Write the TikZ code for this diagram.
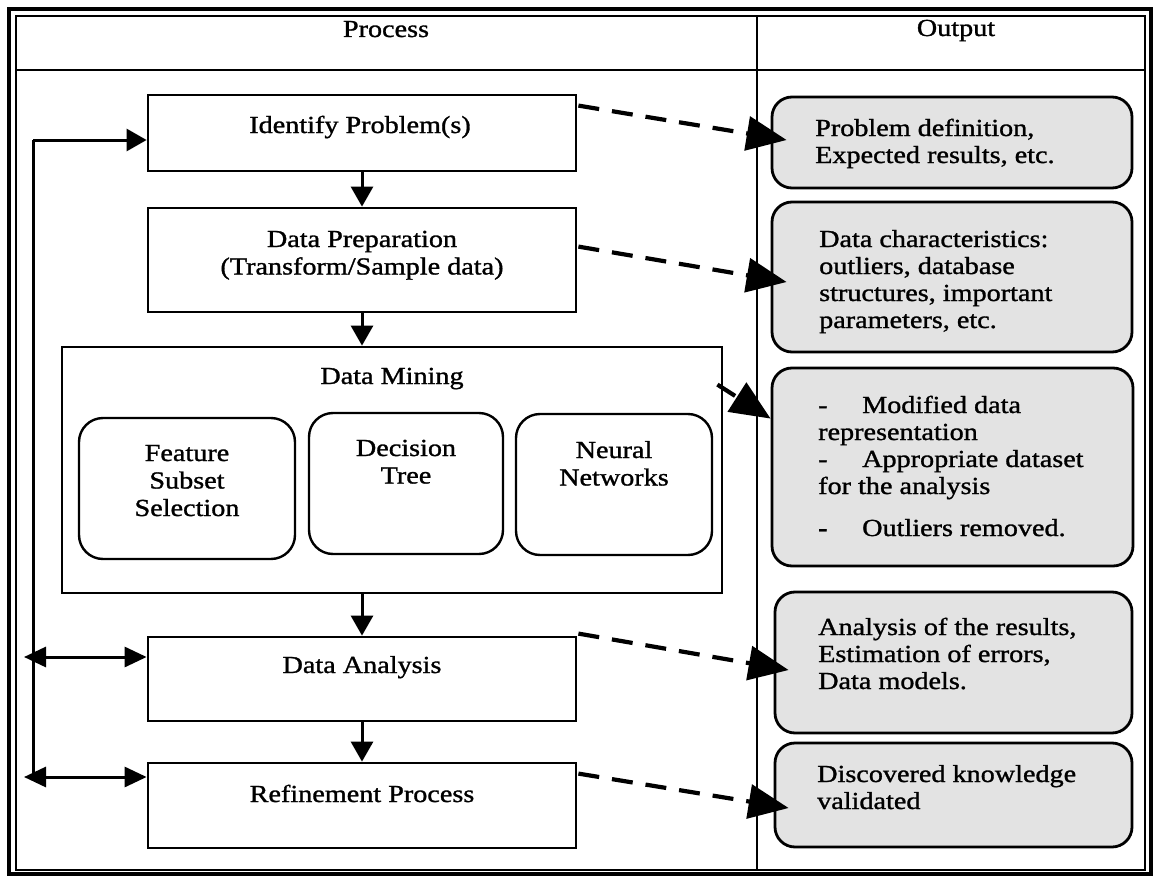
\documentclass[tikz,border=0pt]{standalone}
\usepackage{fontspec}
\setmainfont{Liberation Serif}[FakeStretch=1.15,FakeBold=1.2]
\usetikzlibrary{arrows.meta,calc}
\begin{document}
\begin{tikzpicture}[x=1pt,y=-1pt,
  procbox/.style={draw, line width=2.8pt, inner sep=0pt},
  subbox/.style={draw, line width=2.4pt, rounded corners=24pt, inner sep=0pt},
  outbox/.style={draw, line width=2.8pt, rounded corners=20pt, fill=black!11, inner sep=0pt},
  ctext/.style={inner sep=0pt, anchor=base, font=\fontsize{24.5}{27.5}\selectfont},
  ltext/.style={inner sep=0pt, anchor=base west, font=\fontsize{24.5}{27}\selectfont},
  plain/.style={line width=3pt},
  flow/.style={line width=3pt, -{Triangle[length=20pt,width=22pt]}},
  both/.style={line width=3pt, {Triangle[length=22pt,width=20pt]}-{Triangle[length=22pt,width=20pt]}},
  yields/.style={line width=4.2pt, dash pattern=on 21pt off 13pt, -{Triangle[length=40pt,width=34pt]}}
]
\useasboundingbox (0,0) rectangle (1160,883);
\fill[white] (0,0) rectangle (1160,883);

% frame, header rule and column divider
\draw[line width=4.5pt] (9,9) rectangle (1151,874);
\draw[line width=1.8pt] (16,16) rectangle (1145,870);
\draw[line width=1.8pt] (16,70) -- (1145,70);
\draw[line width=1.8pt] (757,16) -- (757,870);

\node[ctext] (hProc) at (386,37) {Process};
\node[ctext] (hOut) at (956,36) {Output};

% process column
\node[procbox, minimum width=428pt, minimum height=76pt] (idp) at (362,133) {};
\node[procbox, minimum width=428pt, minimum height=104pt] (dp) at (362,260) {};
\node[procbox, minimum width=660pt, minimum height=246pt] (dm) at (392,470) {};
\node[subbox, minimum width=216pt, minimum height=141pt] (fs) at (187,488.5) {};
\node[subbox, minimum width=194pt, minimum height=141pt] (dt) at (406,483.5) {};
\node[subbox, minimum width=196pt, minimum height=141pt] (nn) at (614,484.5) {};
\node[procbox, minimum width=428pt, minimum height=84pt] (da) at (362,679) {};
\node[procbox, minimum width=428pt, minimum height=85pt] (rp) at (362,805.5) {};

\node[ctext] (idpT) at (360,133) {Identify Problem(s)};
\node[ctext] (dpT) at (362,247) {\begin{tabular}[t]{@{}c@{}}Data Preparation\\(Transform/Sample data)\end{tabular}};
\node[ctext] (dmT) at (392,384) {Data Mining};
\node[ctext] (fsT) at (187,461) {\begin{tabular}[t]{@{}c@{}}Feature\\Subset\\Selection\end{tabular}};
\node[ctext] (dtT) at (406,456) {\begin{tabular}[t]{@{}c@{}}Decision\\Tree\end{tabular}};
\node[ctext] (nnT) at (614,458) {\begin{tabular}[t]{@{}c@{}}Neural\\Networks\end{tabular}};
\node[ctext] (daT) at (362,673) {Data Analysis};
\node[ctext] (rpT) at (362,802) {Refinement Process};

% output column
\node[outbox, minimum width=360pt, minimum height=91pt] (out1) at (952,142.5) {};
\node[outbox, minimum width=360pt, minimum height=150pt] (out2) at (952,277) {};
\node[outbox, minimum width=361pt, minimum height=198pt] (out3) at (952.5,467) {};
\node[outbox, minimum width=357pt, minimum height=141pt] (out4) at (953.5,662.5) {};
\node[outbox, minimum width=357pt, minimum height=104pt] (out5) at (953.5,795) {};

\node[ltext] (o1T) at (815,136) {\begin{tabular}[t]{@{}l@{}}Problem definition,\\Expected results, etc.\end{tabular}};
\node[ltext] (o2T) at (819,247) {\begin{tabular}[t]{@{}l@{}}Data characteristics:\\outliers, database\\structures, important\\parameters, etc.\end{tabular}};
\node[ltext] (o3T) at (818,413) {\begin{tabular}[t]{@{}l@{}}\makebox[44pt][l]{-}Modified data\\representation\\\makebox[44pt][l]{-}Appropriate dataset\\for the analysis\\[15pt]\makebox[44pt][l]{\textbf{-}}Outliers removed.\end{tabular}};
\node[ltext] (o4T) at (818,635) {\begin{tabular}[t]{@{}l@{}}Analysis of the results,\\Estimation of errors,\\Data models.\end{tabular}};
\node[ltext] (o5T) at (817,782) {\begin{tabular}[t]{@{}l@{}}Discovered knowledge\\validated\end{tabular}};

% main flow
\draw[flow] (idp.south) -- (dp.north);
\draw[flow] (dp.south) -- (dp.south |- dm.north);
\draw[flow] (da.north |- dm.south) -- (da.north);
\draw[flow] (da.south) -- (rp.north);

% feedback loop
\coordinate (fbTop) at (33,140);
\coordinate (fbBot) at (33,777);
\coordinate (fbDA) at (24,657);
\coordinate (fbRP) at (24,777);
\draw[plain] (fbBot) -- (fbTop);
\draw[flow] (fbTop) -- (fbTop -| idp.west);
\draw[both] (fbDA) -- (fbDA -| da.west);
\draw[both] (fbRP) -- (fbRP -| rp.west);

% process to output
\draw[yields] ($(idp.north east)+(1,12)$) -- ($(out1.west)+(16,-2.5)$);
\draw[yields] ($(dp.north east)+(1,40)$) -- ($(out2.west)+(16,5)$);
\draw[yields] ($(dm.north east)+(-6,39)$) -- ($(out3.north west)+(0,52)$);
\draw[yields] ($(da.north east)+(1,-2)$) -- ($(out4.west)+(15,7.5)$);
\draw[yields] ($(rp.north east)+(1,12)$) -- ($(out5.west)+(15,13)$);
\end{tikzpicture}
\end{document}
